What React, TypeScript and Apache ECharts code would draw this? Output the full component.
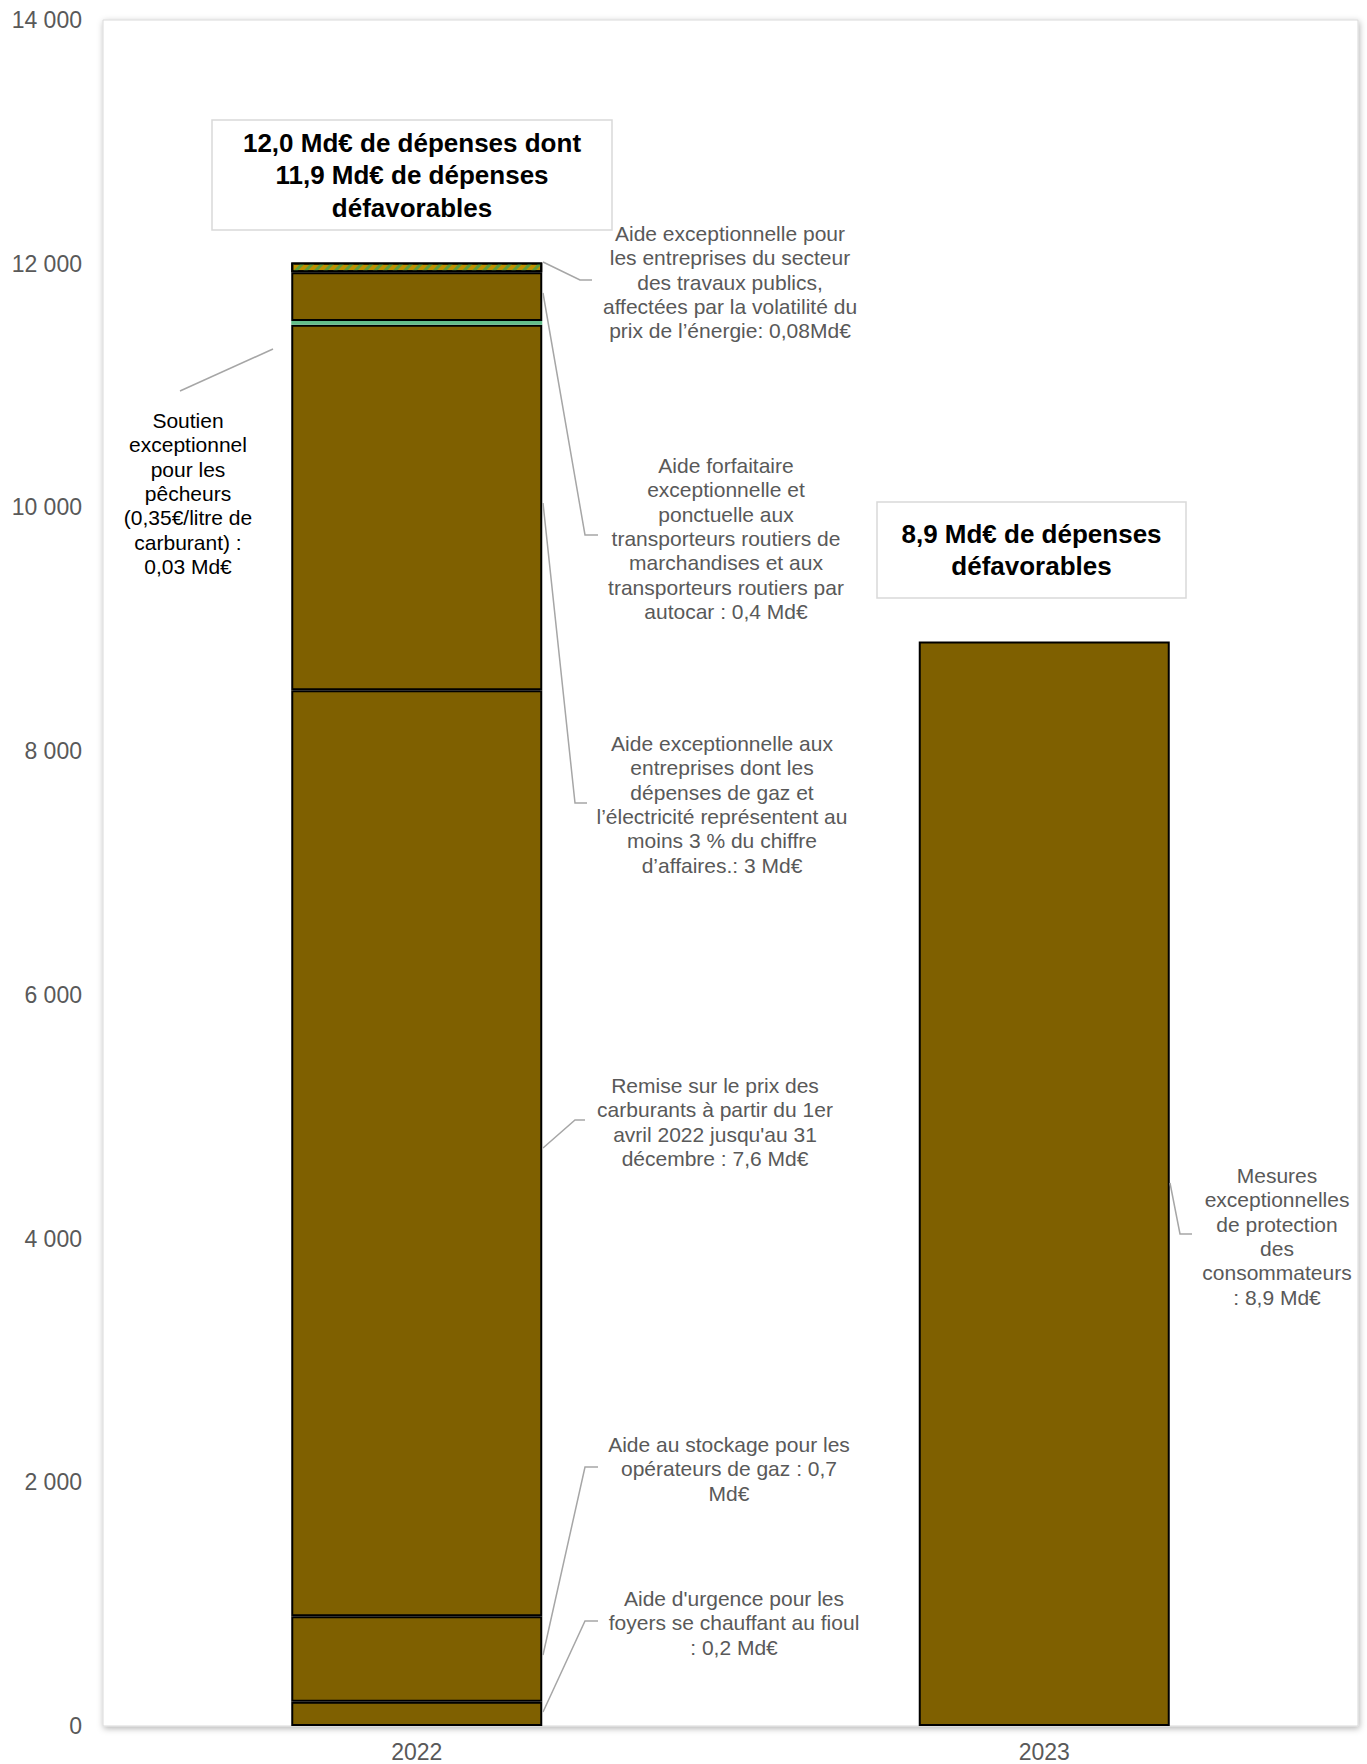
import React, { useEffect, useRef } from "react";
import * as echarts from "echarts";

// Années
const categories = ["2022", "2023"];

// Dépenses en M€, empilées du bas vers le haut
const fioul = [200, null];
const stockage = [700, null];
const remise = [7600, null];
const gazElec = [3000, null];
const pecheurs = [30, null];
const transporteurs = [400, null];
const travauxPublics = [80, null];
const protectionConso = [null, 8900];

const yMin = 0;
const yMax = 14000;
const yInterval = 2000;

const FONT = "'Liberation Sans', Arial, Helvetica, sans-serif";
const BROWN = "#7F6000";
const LABEL_GREY = "#595959";
const LEADER = "#a6a6a6";

// Textes des étiquettes avec leurs traits de rappel
const notes = [
  {
    text: "Aide exceptionnelle pour\nles entreprises du secteur\ndes travaux publics,\naffectées par la volatilité du\nprix de l’énergie: 0,08Md€",
    x: 730, y: 221, color: LABEL_GREY,
    leader: [[543, 262], [580, 280], [592, 280]],
  },
  {
    text: "Aide forfaitaire\nexceptionnelle et\nponctuelle aux\ntransporteurs routiers de\nmarchandises et aux\ntransporteurs routiers par\nautocar : 0,4 Md€",
    x: 726, y: 453, color: LABEL_GREY,
    leader: [[543, 293], [585, 535], [598, 535]],
  },
  {
    text: "Aide exceptionnelle aux\nentreprises dont les\ndépenses de gaz et\nl’électricité représentent au\nmoins 3 % du chiffre\nd’affaires.: 3 Md€",
    x: 722, y: 731, color: LABEL_GREY,
    leader: [[543, 503], [575, 803], [587, 803]],
  },
  {
    text: "Remise sur le prix des\ncarburants à partir du 1er\navril 2022 jusqu'au 31\ndécembre : 7,6 Md€",
    x: 715, y: 1073, color: LABEL_GREY,
    leader: [[543, 1148], [575, 1120], [585, 1120]],
  },
  {
    text: "Aide au stockage pour les\nopérateurs de gaz : 0,7\nMd€",
    x: 729, y: 1432, color: LABEL_GREY,
    leader: [[543, 1655], [585, 1467], [598, 1467]],
  },
  {
    text: "Aide d'urgence pour les\nfoyers se chauffant au fioul\n: 0,2 Md€",
    x: 734, y: 1586, color: LABEL_GREY,
    leader: [[543, 1712], [585, 1621], [598, 1621]],
  },
  {
    text: "Mesures\nexceptionnelles\nde protection\ndes\nconsommateurs\n: 8,9 Md€",
    x: 1277, y: 1163, color: LABEL_GREY,
    leader: [[1170, 1183], [1180, 1234], [1192, 1234]],
  },
  {
    text: "Soutien\nexceptionnel\npour les\npêcheurs\n(0,35€/litre de\ncarburant) :\n0,03 Md€",
    x: 188, y: 408, color: "#000000",
    leader: [[180, 391], [273, 349]],
  },
];

// Encadrés de synthèse
const boxes = [
  {
    text: "12,0 Md€ de dépenses dont\n11,9 Md€ de dépenses\ndéfavorables",
    x: 212, y: 120, w: 400, h: 110,
  },
  {
    text: "8,9 Md€ de dépenses\ndéfavorables",
    x: 877, y: 502, w: 309, h: 96,
  },
];

function formatThousands(v: number): string {
  return String(v).replace(/\B(?=(\d{3})+(?!\d))/g, " ");
}

function barSeries(name: string, data: (number | null)[], itemStyle: any) {
  return {
    name,
    type: "bar",
    stack: "total",
    data,
    barCategoryGap: "60%",
    itemStyle: {
      color: BROWN,
      borderColor: "#000000",
      borderWidth: 2,
      ...itemStyle,
    },
    emphasis: { disabled: true },
  };
}

export default function App() {
  const ref = useRef<HTMLDivElement>(null);

  useEffect(() => {
    if (!ref.current) return;
    const chart = echarts.init(ref.current, undefined, { renderer: "svg" });

    const graphics: any[] = [];
    notes.forEach((n) => {
      graphics.push({
        type: "polyline",
        shape: { points: n.leader },
        style: { stroke: LEADER, lineWidth: 1.5, fill: null },
        z: 10,
      });
      graphics.push({
        type: "text",
        x: n.x,
        y: n.y,
        style: {
          text: n.text,
          align: "center",
          verticalAlign: "top",
          font: `21px ${FONT}`,
          lineHeight: 24.4,
          fill: n.color,
        },
        z: 10,
      });
    });
    boxes.forEach((b) => {
      graphics.push({
        type: "rect",
        shape: { x: b.x, y: b.y, width: b.w, height: b.h },
        style: { fill: "#ffffff", stroke: "#d9d9d9", lineWidth: 1.5 },
        z: 10,
      });
      graphics.push({
        type: "text",
        x: b.x + b.w / 2,
        y: b.y + b.h / 2,
        style: {
          text: b.text,
          align: "center",
          verticalAlign: "middle",
          font: `bold 26px ${FONT}`,
          lineHeight: 32.5,
          fill: "#000000",
        },
        z: 11,
      });
    });

    chart.setOption({
      animation: false,
      backgroundColor: "#ffffff",
      textStyle: { fontFamily: FONT },
      grid: {
        left: 103,
        right: 9,
        top: 20,
        bottom: 38,
        show: true,
        backgroundColor: "#ffffff",
        borderColor: "#d9d9d9",
        borderWidth: 1,
        shadowColor: "rgba(0,0,0,0.3)",
        shadowBlur: 6,
        shadowOffsetX: 1,
        shadowOffsetY: 2,
      },
      xAxis: {
        type: "category",
        data: categories,
        axisLine: { show: false },
        axisTick: { show: false },
        axisLabel: {
          color: LABEL_GREY,
          fontSize: 23,
          fontFamily: FONT,
          margin: 14,
        },
      },
      yAxis: {
        type: "value",
        min: yMin,
        max: yMax,
        interval: yInterval,
        splitLine: { show: false },
        axisLine: { show: false },
        axisTick: { show: false },
        axisLabel: {
          color: LABEL_GREY,
          fontSize: 23,
          fontFamily: FONT,
          margin: 21,
          formatter: (v: number) => formatThousands(v),
        },
      },
      series: [
        barSeries("Fioul", fioul, {}),
        barSeries("Stockage gaz", stockage, {}),
        barSeries("Remise carburants", remise, {}),
        barSeries("Gaz et électricité", gazElec, {}),
        barSeries("Pêcheurs", pecheurs, {
          color: "#63BE8A",
          borderWidth: 0,
        }),
        barSeries("Transporteurs", transporteurs, {}),
        barSeries("Travaux publics", travauxPublics, {
          color: "#BF9000",
          decal: {
            symbol: "rect",
            symbolSize: 1,
            color: "#5E9E3A",
            dashArrayX: [1, 0],
            dashArrayY: [3, 4],
            rotation: -Math.PI / 4,
          },
        }),
        barSeries("Protection des consommateurs", protectionConso, {}),
      ],
      graphic: graphics,
    });

    return () => chart.dispose();
  }, []);

  return (
    <div
      ref={ref}
      style={{ position: "absolute", left: 0, top: 0, width: 1367, height: 1764 }}
    />
  );
}
